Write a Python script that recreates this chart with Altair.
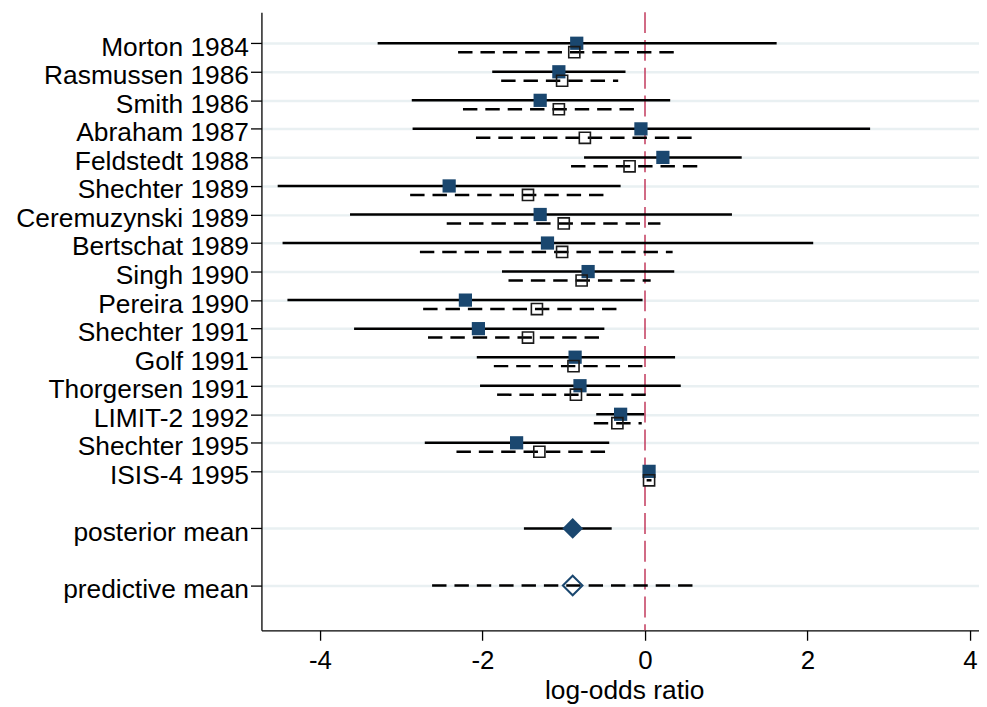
import json
import altair as alt
import pandas as pd

# ---- data ----
studies = ["Morton 1984", "Rasmussen 1986", "Smith 1986", "Abraham 1987",
           "Feldstedt 1988", "Shechter 1989", "Ceremuzynski 1989", "Bertschat 1989",
           "Singh 1990", "Pereira 1990", "Shechter 1991", "Golf 1991",
           "Thorgersen 1991", "LIMIT-2 1992", "Shechter 1995", "ISIS-4 1995"]
rows = list(range(1, 17))

obs_est = [-0.84, -1.06, -1.29, -0.05, 0.22, -2.41, -1.29, -1.20,
           -0.70, -2.21, -2.05, -0.86, -0.80, -0.30, -1.58, 0.05]
obs_lo = [-3.29, -1.88, -2.87, -2.86, -0.75, -4.52, -3.63, -4.46,
          -1.76, -4.40, -3.58, -2.07, -2.03, -0.60, -2.71, 0.02]
obs_hi = [1.62, -0.24, 0.31, 2.77, 1.19, -0.30, 1.07, 2.07,
          0.36, -0.03, -0.50, 0.37, 0.44, -0.01, -0.44, 0.08]

shr_est = [-0.87, -1.02, -1.06, -0.74, -0.19, -1.44, -1.00, -1.02,
           -0.78, -1.33, -1.44, -0.88, -0.85, -0.34, -1.30, 0.05]
shr_lo = [-2.30, -1.77, -2.24, -2.08, -0.91, -2.89, -2.44, -2.77,
          -1.68, -2.73, -2.67, -1.86, -1.82, -0.63, -2.32, 0.02]
shr_hi = [0.37, -0.33, -0.08, 0.67, 0.71, -0.43, 0.19, 0.34,
          0.07, -0.27, -0.49, 0.04, 0.08, -0.04, -0.47, 0.08]

post_label = ["posterior mean"]
post_row = [18]
post_est = [-0.89]
post_lo = [-1.49]
post_hi = [-0.41]

pred_label = ["predictive mean"]
pred_row = [20]
pred_est = [-0.89]
pred_lo = [-2.62]
pred_hi = [0.66]

x_ticks = [-4, -2, 0, 2, 4]
ref_x = [0]

# ---- tables ----
df = pd.DataFrame({"study": studies, "row": rows,
                   "obs_est": obs_est, "obs_lo": obs_lo, "obs_hi": obs_hi,
                   "shr_est": shr_est, "shr_lo": shr_lo, "shr_hi": shr_hi})
post = pd.DataFrame({"label": post_label, "row": post_row, "est": post_est,
                     "lo": post_lo, "hi": post_hi})
pred = pd.DataFrame({"label": pred_label, "row": pred_row, "est": pred_est,
                     "lo": pred_lo, "hi": pred_hi})
zero = pd.DataFrame({"x": ref_x})

label_list = [""] * 21
for r, s in zip(rows, studies):
    label_list[r] = s
label_list[post_row[0]] = post_label[0]
label_list[pred_row[0]] = pred_label[0]
label_expr = json.dumps(label_list) + "[datum.value]"

FONT = "Liberation Sans"
NAVY = "#1a476f"
GRID = "#e9f0f2"

xscale = alt.Scale(domain=[-4.72, 4.11], nice=False, zero=False)
yscale = alt.Scale(domain=[-0.09, 21.57], reverse=True, nice=False, zero=False)

xaxis = alt.Axis(values=x_ticks, title="log-odds ratio", grid=False,
                 labelExpr="'' + datum.value", labelFlush=False,
                 tickSize=10, tickColor="black", tickWidth=1.3,
                 domainColor="black", domainWidth=1.3,
                 labelPadding=7, labelFont=FONT, labelFontSize=26,
                 labelColor="black", titleFont=FONT, titleFontSize=26.5,
                 titleFontWeight="normal", titleColor="black",
                 titleBaseline="alphabetic", titleY=69, titleX=365)
yaxis = alt.Axis(values=rows + post_row + pred_row, labelExpr=label_expr,
                 title=None, grid=True, gridColor=GRID, gridWidth=2.5,
                 tickSize=11, tickColor="black", tickWidth=1.3,
                 domainColor="black", domainWidth=1.3,
                 labelPadding=2, labelFont=FONT, labelFontSize=26.5,
                 labelColor="black", labelBaseline="alphabetic", labelOffset=12,
                 labelOverlap=False, labelLimit=400, labelFlush=False)

base = alt.Chart(df)

zero_line = alt.Chart(zero).mark_rule(color="#c23a5c", strokeWidth=1.5,
                                      strokeDash=[21, 7]).encode(
    x=alt.X("x:Q", scale=xscale, axis=xaxis))

solid = base.mark_rule(color="black", strokeWidth=2.5).encode(
    x=alt.X("obs_lo:Q", scale=xscale, axis=xaxis),
    x2="obs_hi:Q",
    y=alt.Y("row:Q", scale=yscale, axis=yaxis))

dashed = base.mark_rule(color="black", strokeWidth=2.5, strokeDash=[14.5, 8],
                        yOffset=9).encode(
    x=alt.X("shr_lo:Q", scale=xscale, axis=xaxis),
    x2="shr_hi:Q",
    y=alt.Y("row:Q", scale=yscale, axis=yaxis))

filled_sq = base.mark_point(shape="square", filled=True, size=177, color=NAVY,
                            opacity=1).encode(
    x=alt.X("obs_est:Q", scale=xscale, axis=xaxis),
    y=alt.Y("row:Q", scale=yscale, axis=yaxis))

hollow_sq = base.mark_point(shape="square", filled=False, size=125,
                            stroke="#1a1a1a", strokeWidth=1.6, opacity=1,
                            yOffset=9).encode(
    x=alt.X("shr_est:Q", scale=xscale, axis=xaxis),
    y=alt.Y("row:Q", scale=yscale, axis=yaxis))

post_rule = alt.Chart(post).mark_rule(color="black", strokeWidth=2.5).encode(
    x=alt.X("lo:Q", scale=xscale, axis=xaxis), x2="hi:Q",
    y=alt.Y("row:Q", scale=yscale, axis=yaxis))
post_pt = alt.Chart(post).mark_point(shape="diamond", filled=True, size=430,
                                     color=NAVY, opacity=1).encode(
    x=alt.X("est:Q", scale=xscale, axis=xaxis),
    y=alt.Y("row:Q", scale=yscale, axis=yaxis))

pred_rule = alt.Chart(pred).mark_rule(color="black", strokeWidth=2.5,
                                      strokeDash=[14.5, 8]).encode(
    x=alt.X("lo:Q", scale=xscale, axis=xaxis), x2="hi:Q",
    y=alt.Y("row:Q", scale=yscale, axis=yaxis))
pred_pt = alt.Chart(pred).mark_point(shape="diamond", filled=False, size=390,
                                     stroke=NAVY, strokeWidth=2, opacity=1).encode(
    x=alt.X("est:Q", scale=xscale, axis=xaxis),
    y=alt.Y("row:Q", scale=yscale, axis=yaxis))

chart = alt.layer(zero_line, solid, dashed, filled_sq, hollow_sq,
                  post_rule, post_pt, pred_rule, pred_pt).properties(
    width=722, height=622,
    autosize=alt.AutoSizeParams(type="none"),
    padding={"left": 255, "top": 2, "right": 0, "bottom": 76},
    background="white",
).configure_view(stroke=None)

chart.save("out.html", embed_options={"renderer": "svg", "actions": False})
